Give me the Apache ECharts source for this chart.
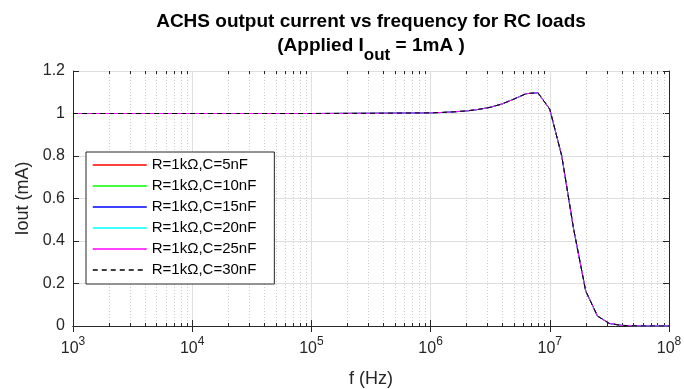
<!DOCTYPE html>
<html><head><meta charset="utf-8">
<script src="https://cdn.jsdelivr.net/npm/echarts@6/dist/echarts.min.js"></script>
<style>html,body{margin:0;padding:0;background:#fff}#c{width:684px;height:389px}</style>
</head><body><div id="c"></div>
<script>
// ---- data ----
const freqHz = [1e3, 1e4, 1e5, 3.16e5, 1e6, 1.26e6, 1.58e6, 2e6, 2.51e6, 3.16e6, 3.98e6, 5.01e6, 6.31e6, 7.94e6,
                1e7, 1.26e7, 1.58e7, 2e7, 2.51e7, 3.16e7, 3.98e7, 5.01e7, 6.31e7, 7.94e7, 1e8];
const ioutC5nF  = [1, 1, 1, 1.001, 1.003, 1.005, 1.008, 1.012, 1.019, 1.029, 1.045, 1.068, 1.093, 1.098, 1.02, 0.80, 0.46, 0.165, 0.047, 0.012, 0.003, 0.001, 0, 0, 0];
const ioutC10nF = [1, 1, 1, 1.001, 1.003, 1.005, 1.008, 1.012, 1.019, 1.029, 1.045, 1.068, 1.093, 1.098, 1.02, 0.80, 0.46, 0.165, 0.047, 0.012, 0.003, 0.001, 0, 0, 0];
const ioutC15nF = [1, 1, 1, 1.001, 1.003, 1.005, 1.008, 1.012, 1.019, 1.029, 1.045, 1.068, 1.093, 1.098, 1.02, 0.80, 0.46, 0.165, 0.047, 0.012, 0.003, 0.001, 0, 0, 0];
const ioutC20nF = [1, 1, 1, 1.001, 1.003, 1.005, 1.008, 1.012, 1.019, 1.029, 1.045, 1.068, 1.093, 1.098, 1.02, 0.80, 0.46, 0.165, 0.047, 0.012, 0.003, 0.001, 0, 0, 0];
const ioutC25nF = [1, 1, 1, 1.001, 1.003, 1.005, 1.008, 1.012, 1.019, 1.029, 1.045, 1.068, 1.093, 1.098, 1.02, 0.80, 0.46, 0.165, 0.047, 0.012, 0.003, 0.001, 0, 0, 0];
const ioutC30nF = [1, 1, 1, 1.001, 1.003, 1.005, 1.008, 1.012, 1.019, 1.029, 1.045, 1.068, 1.093, 1.098, 1.02, 0.80, 0.46, 0.165, 0.047, 0.012, 0.003, 0.001, 0, 0, 0];
const seriesNames = ['R=1kΩ,C=5nF', 'R=1kΩ,C=10nF', 'R=1kΩ,C=15nF', 'R=1kΩ,C=20nF', 'R=1kΩ,C=25nF', 'R=1kΩ,C=30nF'];
const seriesValues = [ioutC5nF, ioutC10nF, ioutC15nF, ioutC20nF, ioutC25nF, ioutC30nF];
const xDecadeExponents = [3, 4, 5, 6, 7, 8];
const yTickLabels = ['0', '0.2', '0.4', '0.6', '0.8', '1', '1.2'];

// ---- styling ----
const FONT = '"Liberation Sans", Arial, Helvetica, sans-serif';
const AX = '#262626';
const colors = ['#ff0000', '#00ff00', '#0000ff', '#00ffff', '#ff00ff', '#000000'];
const dashes = ['solid', 'solid', 'solid', 'solid', 'solid', [5, 4]];

const xMin = Math.pow(10, xDecadeExponents[0]);
const xMax = Math.pow(10, xDecadeExponents[xDecadeExponents.length - 1]);
const minorTicks = [];
for (let i = 0; i < xDecadeExponents.length - 1; i++) {
  for (let m = 2; m <= 9; m++) minorTicks.push([m * Math.pow(10, xDecadeExponents[i]), 0]);
}

const chart = echarts.init(document.getElementById('c'), null, {renderer: 'canvas'});

const lineSeries = seriesNames.map((name, i) => ({
  name: name,
  type: 'line',
  data: freqHz.map((f, j) => [f, seriesValues[i][j]]),
  symbol: 'none',
  showSymbol: false,
  smooth: false,
  z: 3 + i,
  lineStyle: {color: colors[i], width: 1, type: dashes[i]},
  itemStyle: {color: colors[i]},
  emphasis: {disabled: true},
  animation: false
}));

const minorSeries = {
  type: 'custom',
  silent: true,
  z: 1,
  clip: false,
  animation: false,
  data: minorTicks,
  encode: {x: 0, y: 1},
  renderItem: function (params, api) {
    const f = api.value(0);
    const top = api.coord([f, 1.2]);
    const bot = api.coord([f, 0]);
    const x = Math.round(top[0]) + 0.5;
    return {
      type: 'group',
      children: [
        {type: 'line', shape: {x1: x, y1: top[1], x2: x, y2: bot[1]}, style: {stroke: '#cfcfcf', lineWidth: 1, lineDash: [1, 2]}},
        {type: 'line', shape: {x1: x, y1: bot[1], x2: x, y2: bot[1] - 3}, style: {stroke: AX, lineWidth: 1}},
        {type: 'line', shape: {x1: x, y1: top[1], x2: x, y2: top[1] + 3}, style: {stroke: AX, lineWidth: 1}}
      ]
    };
  }
};

const option = {
  backgroundColor: '#ffffff',
  animation: false,
  title: {
    left: 371, top: 10, padding: 0, textAlign: 'center',
    text: '{a|ACHS output current vs frequency for RC loads}\n{a|(Applied I}{b|out}{a| = 1mA )}',
    textStyle: {
      rich: {
        a: {fontFamily: FONT, fontSize: 19, fontWeight: 'bold', color: '#000', lineHeight: 24},
        b: {fontFamily: FONT, fontSize: 17, fontWeight: 'bold', color: '#000', lineHeight: 4, padding: [18, 0, 0, 0]}
      }
    }
  },
  legend: {
    data: seriesNames,
    orient: 'vertical',
    left: 86, top: 152,
    padding: [5, 18, 6, 6],
    itemWidth: 54, itemHeight: 16, itemGap: 5,
    borderColor: AX, borderWidth: 1, borderRadius: 0,
    backgroundColor: '#ffffff',
    selectedMode: false,
    itemStyle: {opacity: 0, borderWidth: 0},
    lineStyle: {width: 1.5},
    textStyle: {fontFamily: FONT, fontSize: 15, color: '#000', lineHeight: 16}
  },
  grid: {left: 73, right: 15, top: 71, bottom: 63, containLabel: false, outerBoundsMode: 'none'},
  xAxis: [{
    type: 'log', logBase: 10, min: xMin, max: xMax, splitNumber: 5,
    name: 'f (Hz)', nameLocation: 'middle', nameGap: 44,
    nameTextStyle: {fontFamily: FONT, fontSize: 18, color: AX},
    axisLine: {show: true, lineStyle: {color: AX, width: 1}},
    axisTick: {show: true, inside: true, length: 6, lineStyle: {color: AX}},
    splitLine: {show: true, lineStyle: {color: '#dfdfdf', width: 1}},
    axisLabel: {
      margin: 13,
      formatter: v => '{b|10}{s|' + Math.round(Math.log10(v)) + '}',
      rich: {
        b: {fontFamily: FONT, fontSize: 16, color: AX, lineHeight: 20},
        s: {fontFamily: FONT, fontSize: 12, color: AX, lineHeight: 12, padding: [0, 0, 14, 0]}
      }
    }
  }, {
    type: 'log', logBase: 10, min: xMin, max: xMax, splitNumber: 5, position: 'top',
    axisLine: {show: true, lineStyle: {color: AX, width: 1}},
    axisTick: {show: true, inside: true, length: 6, lineStyle: {color: AX}},
    axisLabel: {show: false}, splitLine: {show: false}
  }],
  yAxis: [{
    type: 'value', min: 0, max: 1.2, interval: 0.2,
    name: 'Iout (mA)', nameLocation: 'middle', nameGap: 34, nameRotate: 90,
    nameTextStyle: {fontFamily: FONT, fontSize: 18, color: AX},
    axisLine: {show: true, lineStyle: {color: AX, width: 1}},
    axisTick: {show: true, inside: true, length: 6, lineStyle: {color: AX}},
    splitLine: {show: true, lineStyle: {color: '#dfdfdf', width: 1}},
    axisLabel: {
      margin: 8, fontFamily: FONT, fontSize: 16, color: AX,
      formatter: v => yTickLabels[Math.round(v / 0.2)]
    }
  }, {
    type: 'value', min: 0, max: 1.2, interval: 0.2, position: 'right',
    axisLine: {show: true, lineStyle: {color: AX, width: 1}},
    axisTick: {show: true, inside: true, length: 6, lineStyle: {color: AX}},
    axisLabel: {show: false}, splitLine: {show: false}
  }],
  series: [minorSeries].concat(lineSeries)
};
chart.setOption(option);
</script></body></html>
